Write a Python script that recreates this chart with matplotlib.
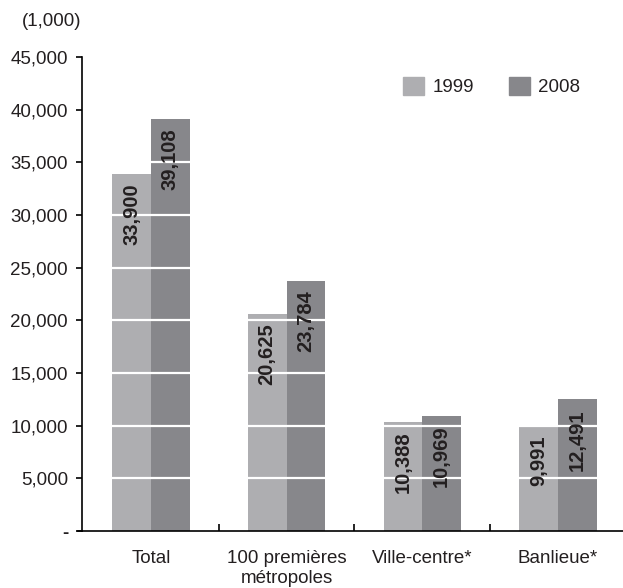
# -*- coding: utf-8 -*-

import numpy as np
import matplotlib.pyplot as plt
from matplotlib.patches import Patch
from matplotlib.lines import Line2D

categories = ['Total', '100 premières\nmétropoles', 'Ville-centre*', 'Banlieue*']
years = ['1999', '2008']
pop1999 = [33900, 20625, 10388, 9991]
pop2008 = [39108, 23784, 10969, 12491]
yticks = [0, 5000, 10000, 15000, 20000, 25000, 30000, 35000, 40000, 45000]
ytick_labels = ['-', '5,000', '10,000', '15,000', '20,000', '25,000',
                '30,000', '35,000', '40,000', '45,000']

c1999 = '#aeaeb1'
c2008 = '#87878b'
txt = '#231f20'

plt.rcParams['font.family'] = ['Liberation Sans', 'DejaVu Sans']
plt.rcParams['font.size'] = 13.5

fig = plt.figure(figsize=(6.23, 5.88), dpi=100)
ax = fig.add_axes([0.1316, 0.0969, 0.8684, 0.806])

x = np.arange(len(categories))
w = 0.285
b1 = ax.bar(x - w/2, pop1999, w, color=c1999, zorder=2)
b2 = ax.bar(x + w/2, pop2008, w, color=c2008, zorder=2)

# white lines across the bars
for yv in yticks[1:-1]:
    ax.axhline(yv, color='white', linewidth=1.6, zorder=2.5)

for bars, vals in ((b1, pop1999), (b2, pop2008)):
    for r, v in zip(bars, vals):
        ax.annotate('{:,}'.format(v), (r.get_x() + r.get_width()/2, v),
                    xytext=(0, -7), textcoords='offset points',
                    rotation=90, ha='center', va='top',
                    fontsize=14.5, fontweight='bold', color=txt, zorder=4)

ax.set_xlim(-0.508, 3.48)
ax.set_ylim(0, 45000)
ax.set_yticks(yticks)
ax.set_yticklabels(ytick_labels, color=txt)
ax.get_yticklabels()[0].set_fontweight('bold')
ax.tick_params(axis='y', direction='out', length=4, width=1.2, pad=6)

ax.set_xticks([0.5, 1.5, 2.5])
ax.set_xticklabels([])
ax.tick_params(axis='x', which='major', direction='in', length=5, width=1.2)
ax.set_xticks(x, minor=True)
ax.set_xticklabels(categories, minor=True, color=txt)
ax.tick_params(axis='x', which='minor', length=0, pad=14)

for s in ('top', 'right'):
    ax.spines[s].set_visible(False)
ax.spines['left'].set_linewidth(1.2)
ax.spines['bottom'].set_linewidth(1.2)
ax.add_line(Line2D([-0.008, 0], [0, 0], transform=ax.transAxes,
                   color='black', linewidth=1.2, clip_on=False))

handles = [Patch(color=c1999), Patch(color=c2008)]
fig.legend(handles, years, ncol=2, frameon=False, loc='center left',
           bbox_to_anchor=(0.62, 0.853), handlelength=1.1, handleheight=1.1,
           handletextpad=0.45, columnspacing=1.9, fontsize=13.5, labelcolor=txt)

fig.text(22/623, 1 - 22/588, '(1,000)', ha='left', va='center',
         fontsize=13.5, color=txt)

plt.savefig('out.png', dpi=100)
